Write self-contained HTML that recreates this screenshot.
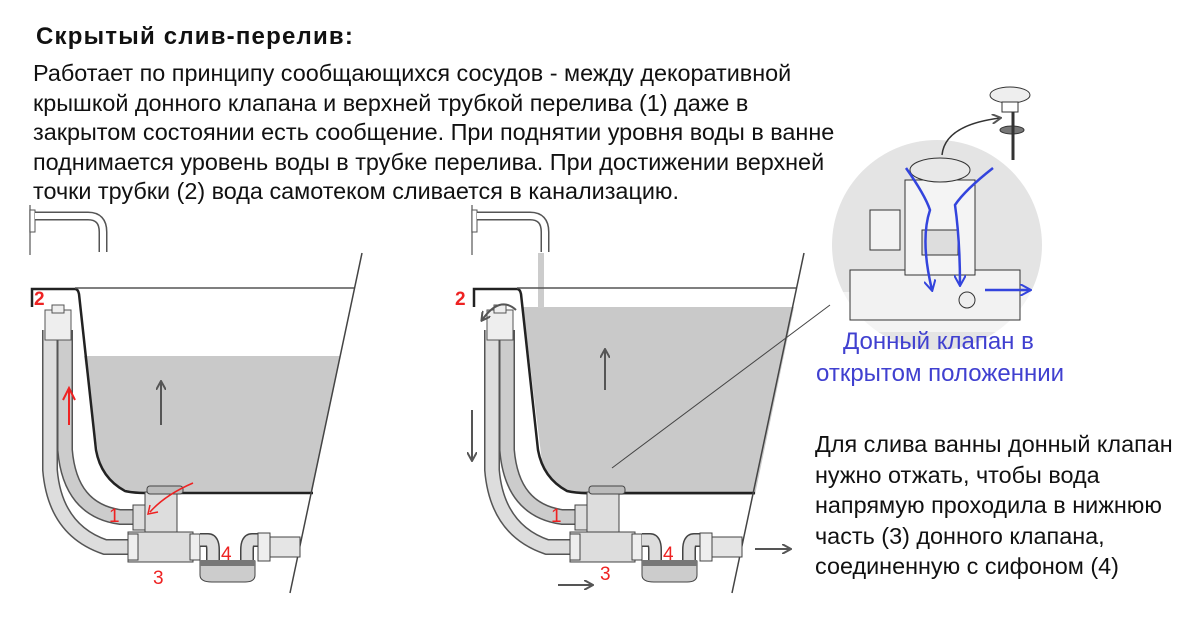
<!DOCTYPE html>
<html><head><meta charset="utf-8"><style>
body{margin:0;background:#fff;width:1200px;height:623px;overflow:hidden;position:relative;font-family:"Liberation Sans","DejaVu Sans",sans-serif}
.t{position:absolute;font-size:23.4px;color:#111;white-space:nowrap}
svg{position:absolute;left:0;top:0}
</style></head><body>
<svg width="1200" height="623" viewBox="0 0 1200 623">
<defs>
<marker id="ar" markerWidth="10" markerHeight="10" refX="8" refY="5" orient="auto" markerUnits="userSpaceOnUse"><path d="M0,0 L9,5 L0,10" fill="none" stroke="#555" stroke-width="2"/></marker>
<marker id="ab" markerWidth="12" markerHeight="12" refX="10" refY="6" orient="auto" markerUnits="userSpaceOnUse"><path d="M0,0 L11,6 L0,12" fill="none" stroke="#3344dd" stroke-width="2"/></marker>
<g id="bath">
<line x1="30" y1="205" x2="30" y2="255" stroke="#777" stroke-width="1.5"/>
<rect x="30" y="210" width="5" height="22" fill="#fff" stroke="#555"/>
<path d="M35,216 H88 Q103,216 103,232 V252" fill="none" stroke="#555" stroke-width="9"/>
<path d="M35,216 H88 Q103,216 103,232 V252" fill="none" stroke="#fff" stroke-width="6"/>
<path d="M32,307 V289 H75 Q78,289 79,294 L96,450 Q101,478 125,491 Q133,493 145,493 H313" fill="none" stroke="#222" stroke-width="2.5"/>
<line x1="75" y1="288" x2="355" y2="288" stroke="#555" stroke-width="1.5"/>
<line x1="362" y1="253" x2="290" y2="593" stroke="#444" stroke-width="1.5"/>
<path d="M50,330 V470 Q55,530 105,547 H135" fill="none" stroke="#555" stroke-width="16"/>
<path d="M50,330 V470 Q55,530 105,547 H135" fill="none" stroke="#ddd" stroke-width="13"/>
<path d="M65,330 V450 Q70,510 120,517 H135" fill="none" stroke="#555" stroke-width="16"/>
<path d="M65,330 V450 Q70,510 120,517 H135" fill="none" stroke="#ccc" stroke-width="13"/>
<rect x="45" y="310" width="26" height="30" fill="#eee" stroke="#555"/>
<rect x="52" y="305" width="12" height="8" fill="#eee" stroke="#555"/>
<rect x="133" y="505" width="12" height="25" fill="#ddd" stroke="#444"/>
<rect x="145" y="492" width="32" height="48" fill="#ddd" stroke="#444"/>
<rect x="147" y="486" width="36" height="8" rx="3" fill="#bbb" stroke="#444"/>
<rect x="128" y="532" width="65" height="30" fill="#ddd" stroke="#444"/>
<rect x="128" y="534" width="10" height="26" fill="#eee" stroke="#444"/>
<rect x="190" y="534" width="10" height="26" fill="#eee" stroke="#444"/>
<path d="M200,540 H208 Q213,540 213,550 V565" fill="none" stroke="#444" stroke-width="14"/>
<path d="M200,540 H208 Q213,540 213,550 V565" fill="none" stroke="#ddd" stroke-width="11"/>
<path d="M260,540 H252 Q247,540 247,550 V565" fill="none" stroke="#444" stroke-width="14"/>
<path d="M260,540 H252 Q247,540 247,550 V565" fill="none" stroke="#ddd" stroke-width="11"/>
<path d="M200,561 H255 V575 Q255,582 245,582 H212 Q200,582 200,575Z" fill="#ccc" stroke="#444"/>
<rect x="200" y="560" width="55" height="6" fill="#777"/>
<rect x="258" y="533" width="12" height="28" fill="#eee" stroke="#444"/>
<rect x="270" y="537" width="30" height="20" fill="#e5e5e5" stroke="#444"/>
</g>
</defs>
<path d="M84,356 H340 L312,493 H140 Q110,490 99,460Z" fill="#c9c9c9"/>
<use href="#bath"/>
<line x1="161" y1="425" x2="161" y2="382" stroke="#555" stroke-width="2" marker-end="url(#ar)"/>
<path d="M69,425 V388" stroke="#e22" stroke-width="2" fill="none"/>
<path d="M63,400 L69,388 L75,400" stroke="#e22" stroke-width="2" fill="none"/>
<path d="M193,483 Q165,495 150,512" stroke="#e22" stroke-width="1.5" fill="none"/>
<path d="M150,505 L148,514 L158,512" stroke="#e22" stroke-width="1.5" fill="none"/>
<path d="M523,307 H794 L755,495 H585 Q553,492 542,462Z" fill="#c9c9c9"/>
<rect x="538" y="253" width="6" height="55" fill="#ccc"/>
<g transform="translate(442,0)"><use href="#bath"/></g>
<line x1="605" y1="390" x2="605" y2="350" stroke="#555" stroke-width="2" marker-end="url(#ar)"/>
<line x1="472" y1="410" x2="472" y2="460" stroke="#555" stroke-width="2" marker-end="url(#ar)"/>
<line x1="558" y1="585" x2="592" y2="585" stroke="#555" stroke-width="2" marker-end="url(#ar)"/>
<line x1="755" y1="549" x2="790" y2="549" stroke="#555" stroke-width="2" marker-end="url(#ar)"/>
<path d="M516,310 Q500,295 482,320" fill="none" stroke="#555" stroke-width="2" marker-end="url(#ar)"/>
<line x1="612" y1="468" x2="830" y2="305" stroke="#444" stroke-width="1"/>
<circle cx="937" cy="245" r="105" fill="#e4e4e4"/>
<rect x="832" y="292" width="212" height="40" fill="#fff" opacity="0.6"/>
<path d="M942,155 Q945,125 1000,118" fill="none" stroke="#333" stroke-width="1.5" marker-end="url(#ar)"/>
<ellipse cx="1010" cy="95" rx="20" ry="8" fill="#eee" stroke="#333"/>
<rect x="1002" y="102" width="16" height="10" fill="#fff" stroke="#333"/>
<ellipse cx="1012" cy="130" rx="12" ry="4" fill="#777" stroke="#333"/>
<line x1="1013" y1="112" x2="1013" y2="160" stroke="#333" stroke-width="3"/>
<rect x="870" y="210" width="30" height="40" fill="#f2f2f2" stroke="#333"/>
<rect x="850" y="270" width="170" height="50" fill="#f2f2f2" stroke="#333"/>
<rect x="905" y="180" width="70" height="95" fill="#f4f4f4" stroke="#333"/>
<ellipse cx="940" cy="170" rx="30" ry="12" fill="#e8e8e8" stroke="#333"/>
<rect x="922" y="230" width="36" height="25" fill="#ddd" stroke="#333"/>
<circle cx="967" cy="300" r="8" fill="#eee" stroke="#333"/>
<path d="M906,168 Q925,195 930,210 Q920,240 932,290" fill="none" stroke="#3344dd" stroke-width="2.5" marker-end="url(#ab)"/>
<path d="M993,168 Q965,190 955,205 Q960,240 960,285" fill="none" stroke="#3344dd" stroke-width="2.5" marker-end="url(#ab)"/>
<line x1="985" y1="290" x2="1030" y2="290" stroke="#3344dd" stroke-width="2.5" marker-end="url(#ab)"/>
<g font-family="Liberation Sans, sans-serif" font-size="19" fill="#e22" font-weight="bold">
<text x="34" y="305">2</text><text x="455" y="305">2</text>
</g>
<g font-family="Liberation Sans, sans-serif" font-size="19" fill="#e22">
<text x="109" y="522">1</text><text x="551" y="522">1</text>
<text x="153" y="584">3</text><text x="600" y="580">3</text>
<text x="221" y="560">4</text><text x="663" y="560">4</text>
</g>
</svg>
<div class="t" style="left:36px;top:23px;font-weight:bold;font-size:24px;letter-spacing:1.2px">Скрытый слив-перелив:</div>
<div class="t" style="left:33px;top:59px;line-height:29.5px">Работает по принципу сообщающихся сосудов - между декоративной<br>крышкой донного клапана и верхней трубкой перелива (1) даже в<br>закрытом состоянии есть сообщение. При поднятии уровня воды в ванне<br>поднимается уровень воды в трубке перелива. При достижении верхней<br>точки трубки (2) вода самотеком сливается в канализацию.</div>
<div class="t" style="left:816px;top:326px;line-height:32px;color:#4040d0;font-size:24px"><span style="padding-left:27px">Донный клапан в</span><br>открытом положеннии</div>
<div class="t" style="left:815px;top:429px;line-height:30.5px">Для слива ванны донный клапан<br>нужно отжать, чтобы вода<br>напрямую проходила в нижнюю<br>часть (3) донного клапана,<br>соединенную с сифоном (4)</div>
</body></html>
